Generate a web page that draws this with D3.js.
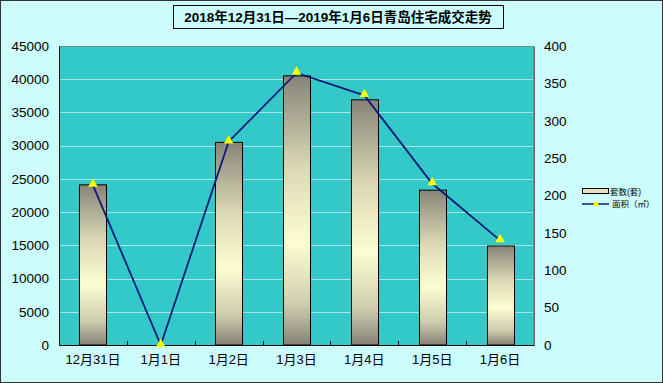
<!DOCTYPE html>
<html>
<head>
<meta charset="utf-8">
<script src="https://cdn.jsdelivr.net/npm/d3@7"></script>
<style>
  body { margin: 0; background: #ccfcfc; }
  text { font-family: "Liberation Sans", "Noto Sans CJK SC", sans-serif; }
</style>
</head>
<body>
<div id="chart"></div>
<script>
// data
var days = ["12月31日", "1月1日", "1月2日", "1月3日", "1月4日", "1月5日", "1月6日"];
var units = [24100, 0, 30500, 40500, 36900, 23300, 14900];   // 套数(套)
var area = [214, 0, 272, 364, 334, 216, 140];                // 面积(㎡)
var leftTicks = [0, 5000, 10000, 15000, 20000, 25000, 30000, 35000, 40000, 45000];
var rightTicks = [0, 50, 100, 150, 200, 250, 300, 350, 400];

var svgWidth = 663, svgHeight = 383;
var margin = { top: 46, right: 129, bottom: 38, left: 59 };
var width = svgWidth - margin.left - margin.right;
var height = svgHeight - margin.top - margin.bottom;

var svg = d3.select("#chart").append("svg")
  .attr("width", svgWidth)
  .attr("height", svgHeight);

// background + frame
svg.append("rect")
  .attr("x", 0.5).attr("y", 0.5)
  .attr("width", svgWidth - 1).attr("height", svgHeight - 1)
  .attr("fill", "#ccfcfc")
  .attr("stroke", "#333");

// gradient for the bars
var grad = svg.append("defs").append("linearGradient")
  .attr("id", "barGrad")
  .attr("x1", 0).attr("y1", 0).attr("x2", 0).attr("y2", 1);
grad.append("stop").attr("offset", "0%").attr("stop-color", "#878478");
grad.append("stop").attr("offset", "35%").attr("stop-color", "#dcdab6");
grad.append("stop").attr("offset", "62%").attr("stop-color", "#fdfdd2");
grad.append("stop").attr("offset", "85%").attr("stop-color", "#cfcdae");
grad.append("stop").attr("offset", "100%").attr("stop-color", "#858276");

// title
var titleG = svg.append("g");
titleG.append("rect")
  .attr("x", 173.5).attr("y", 5.5)
  .attr("width", 330).attr("height", 23)
  .attr("fill", "none")
  .attr("stroke", "#000");
titleG.append("text")
  .attr("x", 338).attr("y", 22)
  .attr("text-anchor", "middle")
  .attr("font-size", 13.5)
  .attr("font-weight", "bold")
  .attr("fill", "#000")
  .text("2018年12月31日—2019年1月6日青岛住宅成交走势");

var chartGroup = svg.append("g")
  .attr("transform", `translate(${margin.left}, ${margin.top})`);

var x = d3.scaleBand().domain(days).range([0, width]);
var yLeft = d3.scaleLinear().domain([0, 45000]).range([height, 0]);
var yRight = d3.scaleLinear().domain([0, 400]).range([height, 0]);

// plot area
chartGroup.append("rect")
  .attr("width", width).attr("height", height)
  .attr("fill", "#33c9c9");

// gridlines
chartGroup.append("g")
  .selectAll("line")
  .data(leftTicks.slice(1, -1))
  .enter().append("line")
  .attr("x1", 0).attr("x2", width)
  .attr("y1", d => Math.round(yLeft(d)) + 0.5)
  .attr("y2", d => Math.round(yLeft(d)) + 0.5)
  .attr("stroke", "#a8e6e6")
  .attr("stroke-width", 1.2);

// bars
var barW = 27;
chartGroup.selectAll(".bar")
  .data(units)
  .enter().append("rect")
  .attr("class", "bar")
  .attr("x", (d, i) => Math.round(x(days[i]) + x.bandwidth() / 2 - barW / 2) + 0.5)
  .attr("y", d => yLeft(d))
  .attr("width", barW)
  .attr("height", d => height - yLeft(d))
  .attr("fill", "url(#barGrad)")
  .attr("stroke", "#000")
  .attr("stroke-width", 1);

// plot frame (top/right in grey)
chartGroup.append("path")
  .attr("d", `M0.5,${height}V0.5H${width - 0.5}V${height}`)
  .attr("fill", "none")
  .attr("stroke", "#6f8f8f");

// axes
var leftAxis = d3.axisLeft(yLeft).tickValues(leftTicks).tickFormat(d3.format("d"))
  .tickSize(0).tickPadding(10);
var gl = chartGroup.append("g").call(leftAxis);
gl.select(".domain").attr("stroke", "#000");
gl.selectAll("text").attr("font-size", 13.5).attr("fill", "#000");

var rightAxis = d3.axisRight(yRight).tickValues(rightTicks).tickFormat(d3.format("d"))
  .tickSize(0).tickPadding(10);
var gr = chartGroup.append("g")
  .attr("transform", `translate(${width}, 0)`)
  .call(rightAxis);
gr.select(".domain").attr("stroke", "#666");
gr.selectAll("text").attr("font-size", 13.5).attr("fill", "#000")
  .attr("font-family", "'Liberation Serif', 'DejaVu Serif', serif");

var bottomAxis = d3.axisBottom(x).tickSize(0).tickPadding(10);
var gb = chartGroup.append("g")
  .attr("transform", `translate(0, ${height})`)
  .call(bottomAxis);
gb.select(".domain").attr("stroke", "#000");
gb.selectAll("text").attr("font-size", 13).attr("fill", "#000");

// small upward ticks between categories
chartGroup.append("g")
  .selectAll("line")
  .data(days.slice(1))
  .enter().append("line")
  .attr("x1", d => Math.round(x(d)) + 0.5)
  .attr("x2", d => Math.round(x(d)) + 0.5)
  .attr("y1", height).attr("y2", height - 4)
  .attr("stroke", "#000");

// line series
var line = d3.line()
  .x((d, i) => x(days[i]) + x.bandwidth() / 2)
  .y(d => yRight(d));

chartGroup.append("path")
  .datum(area)
  .attr("d", line)
  .attr("fill", "none")
  .attr("stroke", "#0c1a7a")
  .attr("stroke-width", 1.8);

var tri = d3.symbol().type(d3.symbolTriangle).size(40);
chartGroup.selectAll(".pt")
  .data(area)
  .enter().append("path")
  .attr("class", "pt")
  .attr("d", tri)
  .attr("transform", (d, i) => `translate(${x(days[i]) + x.bandwidth() / 2}, ${yRight(d) - 1})`)
  .attr("fill", "#ffff00");

// legend
var legend = svg.append("g").attr("transform", "translate(582, 188)");
legend.append("rect")
  .attr("x", 0.5).attr("y", 0.5)
  .attr("width", 26).attr("height", 5)
  .attr("fill", "#e6e0c0")
  .attr("stroke", "#000");
legend.append("text")
  .attr("x", 28).attr("y", 7)
  .attr("font-size", 8.5)
  .attr("fill", "#000")
  .text("套数(套)");
legend.append("line")
  .attr("x1", 0).attr("x2", 27)
  .attr("y1", 16).attr("y2", 16)
  .attr("stroke", "#0c1a7a").attr("stroke-width", 1.5);
legend.append("path")
  .attr("d", d3.symbol().type(d3.symbolTriangle).size(22))
  .attr("transform", "translate(14, 16)")
  .attr("fill", "#ffff00");
legend.append("text")
  .attr("x", 30).attr("y", 19)
  .attr("font-size", 8.5)
  .attr("fill", "#000")
  .text("面积（㎡）");
</script>
</body>
</html>
